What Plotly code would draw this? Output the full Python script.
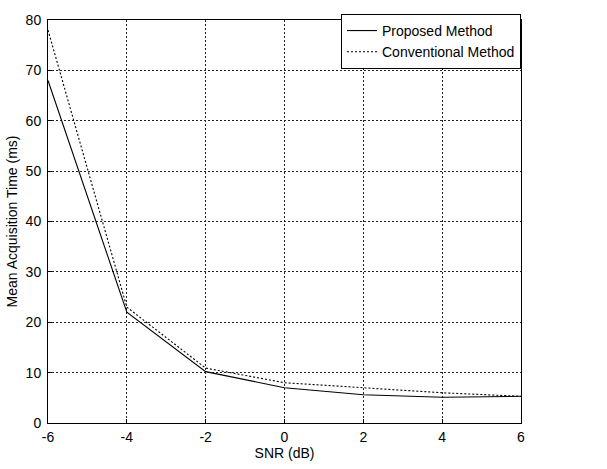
import plotly.graph_objects as go

snr_db = [-6, -4, -2, 0, 2, 4, 6]
proposed_ms = [68.0, 22.0, 10.2, 7.0, 5.6, 5.1, 5.3]
conventional_ms = [78.0, 23.0, 10.9, 8.0, 7.0, 6.0, 5.3]

x_ticks = [-6, -4, -2, 0, 2, 4, 6]
x_tick_labels = ["-6", "-4", "-2", "0", "2", "4", "6"]
y_ticks = [0, 10, 20, 30, 40, 50, 60, 70, 80]

font = dict(family="Liberation Sans, Arial, sans-serif", size=14, color="black")

fig = go.Figure()
fig.add_trace(go.Scatter(x=snr_db, y=proposed_ms, mode="lines", name="Proposed Method",
                         line=dict(color="black", width=1.1, dash="solid")))
fig.add_trace(go.Scatter(x=snr_db, y=conventional_ms, mode="lines", name="Conventional Method",
                         line=dict(color="black", width=1.1, dash="2px,2px")))

axis_common = dict(showline=True, linecolor="black", linewidth=1, mirror=True,
                   ticks="inside", ticklen=4, tickcolor="black",
                   showgrid=True, gridcolor="#222222", gridwidth=0.8, griddash="2px,2px",
                   zeroline=False, tickfont=font)

fig.update_xaxes(range=[-6, 6], tickvals=x_ticks, ticktext=x_tick_labels, ticklabelstandoff=1,
                 title=dict(text="SNR (dB)", font=font, standoff=2),
                 **axis_common)
fig.update_yaxes(range=[0, 80], tickvals=y_ticks, ticklabelstandoff=3,
                 title=dict(text="Mean Acquisition Time (ms)", font=font, standoff=4),
                 **axis_common)

fig.update_layout(
    width=607, height=469,
    margin=dict(l=48, r=86, t=13, b=46),
    plot_bgcolor="white", paper_bgcolor="white",
    font=font,
    showlegend=True,
    legend=dict(x=1, y=1.015, xanchor="right", yanchor="top",
                bgcolor="white", bordercolor="black", borderwidth=1,
                font=font, tracegroupgap=0),
)

fig.write_html("out.html")
